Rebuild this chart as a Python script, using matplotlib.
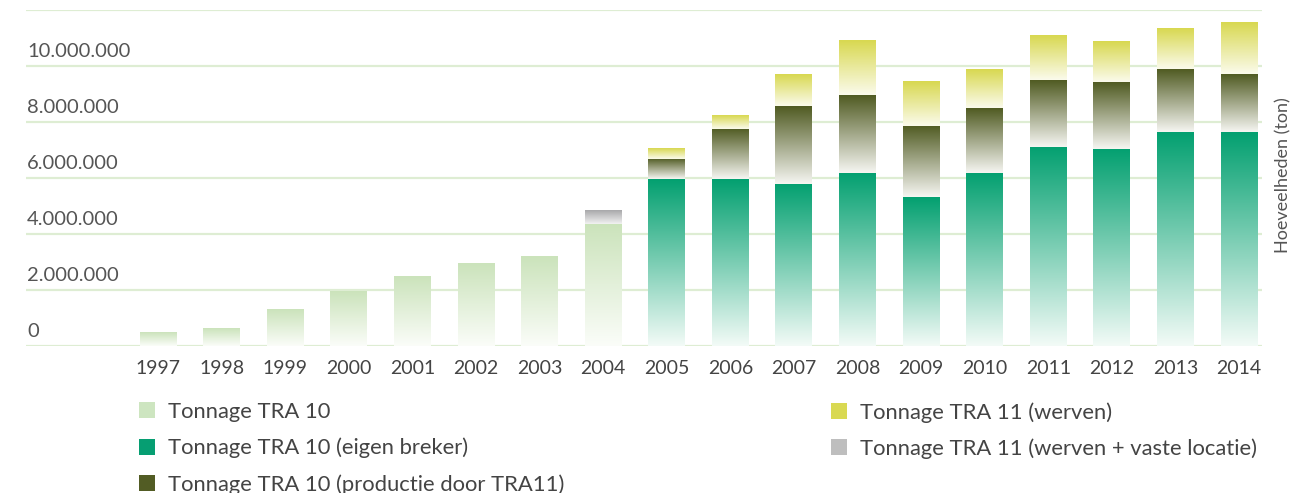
import numpy as np
import matplotlib
matplotlib.use("Agg")
import matplotlib.pyplot as plt
from matplotlib.colors import LinearSegmentedColormap
from matplotlib.patches import Patch
from matplotlib.transforms import blended_transform_factory

plt.rcParams['font.family'] = ['Lato', 'DejaVu Sans']

years = ["1997", "1998", "1999", "2000", "2001", "2002", "2003", "2004", "2005",
         "2006", "2007", "2008", "2009", "2010", "2011", "2012", "2013", "2014"]
# tonnage in tonnes
tra10 = [0.50e6, 0.64e6, 1.32e6, 1.93e6, 2.50e6, 2.93e6, 3.21e6, 4.37e6,
         0, 0, 0, 0, 0, 0, 0, 0, 0, 0]
tra10_eigen = [0, 0, 0, 0, 0, 0, 0, 0,
               5.96e6, 5.96e6, 5.79e6, 6.18e6, 5.32e6, 6.18e6, 7.11e6, 7.04e6, 7.64e6, 7.64e6]
tra10_prod = [0, 0, 0, 0, 0, 0, 0, 0,
              0.72e6, 1.80e6, 2.78e6, 2.78e6, 2.54e6, 2.32e6, 2.39e6, 2.39e6, 2.25e6, 2.07e6]
tra11_werven = [0, 0, 0, 0, 0, 0, 0, 0,
                0.36e6, 0.49e6, 1.14e6, 1.93e6, 1.60e6, 1.39e6, 1.60e6, 1.43e6, 1.43e6, 1.83e6]
tra11_vast = [0, 0, 0, 0, 0, 0, 0, 0.49e6,
              0, 0, 0, 0, 0, 0, 0, 0, 0, 0]

series_labels = ["Tonnage TRA 10", "Tonnage TRA 10 (eigen breker)",
                 "Tonnage TRA 10 (productie door TRA11)", "Tonnage TRA 11 (werven)",
                 "Tonnage TRA 11 (werven + vaste locatie)"]
ytick_vals = [0, 2e6, 4e6, 6e6, 8e6, 10e6]
ytick_labels = ["0", "2.000.000", "4.000.000", "6.000.000", "8.000.000", "10.000.000"]

# (top colour, bottom colour) of each gradient, legend colour
styles = [
    ("#cbe3bb", "#fbfdf9", "#cde5c0"),
    ("#03a070", "#f3fbf7", "#069e72"),
    ("#505b22", "#f6f6f2", "#525c24"),
    ("#d8d850", "#fbfbec", "#d9d952"),
    ("#a8a8aa", "#f2f2f2", "#bebebe"),
]

fig = plt.figure(figsize=(13.15, 4.93), dpi=100)
ax = fig.add_axes([26/1315, 1 - 346/493, 1236/1315, 336/493])
for s in ax.spines.values():
    s.set_visible(False)
ax.set_yticks([])
ax.set_xticks([])

for g in ytick_vals + [12e6]:
    ax.axhline(g, color="#deedd3", lw=1.6, zorder=0)

trans = blended_transform_factory(ax.transAxes, ax.transData)
for v, lab in zip(ytick_vals, ytick_labels):
    ax.text(0.001, v + 0.2e6, lab, transform=trans, ha="left", va="bottom",
            fontsize=14.5, color="#555555")

x = np.arange(len(years))
w = 0.58
grad = np.linspace(1, 0, 256).reshape(-1, 1)
bottom = np.zeros(len(years))
data = [tra10, tra10_eigen, tra10_prod, tra11_werven, tra11_vast]
for vals, (ctop, cbot, _) in zip(data, styles):
    cmap = LinearSegmentedColormap.from_list("g", [cbot, ctop])
    vals = np.array(vals)
    for i in range(len(years)):
        if vals[i] <= 0:
            continue
        b = bottom[i]
        t = b + vals[i]
        ax.imshow(grad, cmap=cmap, vmin=0, vmax=1, aspect="auto",
                  extent=[x[i] - w/2, x[i] + w/2, b, t], zorder=2,
                  interpolation="bilinear")
    bottom = bottom + vals
ax.set_xlim(-2.075, 17.36)
ax.set_ylim(0, 12e6)

for i, yr in enumerate(years):
    ax.text(x[i], -0.5e6, yr, ha="center", va="top", fontsize=14, color="#444444")

fig.text(1283/1315, 1 - 175/493, "Hoeveelheden (ton)", rotation=90, ha="center",
         va="center", fontsize=13, color="#555555")

handles = [Patch(facecolor=c[2], edgecolor="none") for c in styles]
common = dict(loc="upper left", frameon=False, fontsize=15.8, handlelength=0.75,
              handleheight=0.75, handletextpad=0.55, labelspacing=0.72,
              borderaxespad=0, borderpad=0)
leg1 = fig.legend(handles[:3], series_labels[:3],
                  bbox_to_anchor=(139/1315, 1 - 402/493), **common)
leg2 = fig.legend(handles[3:], series_labels[3:],
                  bbox_to_anchor=(831/1315, 1 - 402/493), **common)
for leg in (leg1, leg2):
    for t in leg.get_texts():
        t.set_color("#444444")

fig.savefig("out.png", dpi=100)
